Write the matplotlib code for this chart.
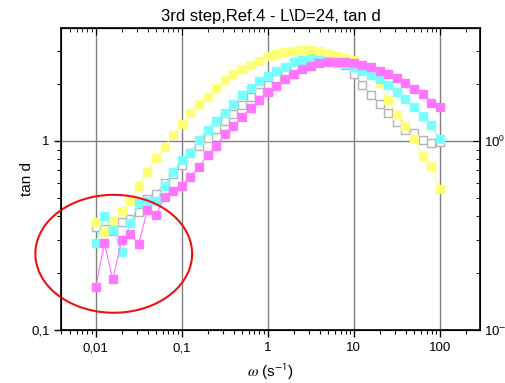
#----Bibliotek
import matplotlib.pyplot as plt
import numpy as np

plt.rcParams['font.family'] = ['Liberation Sans', 'DejaVu Sans']
plt.rcParams['mathtext.fontset'] = 'stix'

#----Data
omega = [0.01, 0.0126, 0.0158, 0.02, 0.0251, 0.0316, 0.0398, 0.0501, 0.0631, 0.0794,
         0.1, 0.126, 0.158, 0.2, 0.251, 0.316, 0.398, 0.501, 0.631, 0.794,
         1, 1.26, 1.58, 2, 2.51, 3.16, 3.98, 5.01, 6.31, 7.94,
         10, 12.6, 15.8, 20, 25.1, 31.6, 39.8, 50.1, 63.1, 79.4, 100]

tan_gray = [0.35, 0.342, 0.335, 0.372, 0.388, 0.42, 0.492, 0.525, 0.597, 0.665,
            0.746, 0.861, 0.941, 1.041, 1.157, 1.276, 1.39, 1.551, 1.703, 1.821,
            1.986, 2.128, 2.281, 2.472, 2.65, 2.75, 2.79, 2.78, 2.68, 2.525,
            2.262, 1.979, 1.752, 1.566, 1.402, 1.265, 1.15, 1.098, 1.012, 0.978, 0.99]

tan_yellow = [0.374, 0.329, 0.376, 0.426, 0.483, 0.578, 0.685, 0.81, 0.933, 1.076,
              1.23, 1.402, 1.564, 1.715, 1.9, 2.09, 2.262, 2.395, 2.525, 2.66,
              2.82, 2.886, 2.946, 2.984, 3.03, 3.02, 2.98, 2.904, 2.83, 2.76,
              2.68, 2.49, 2.29, 2.035, 1.641, 1.378, 1.193, 1.022, 0.828, 0.738, 0.554]

tan_cyan = [0.288, 0.401, 0.34, 0.258, 0.367, 0.468, 0.481, 0.483, 0.578, 0.688,
            0.79, 0.867, 1.009, 1.143, 1.281, 1.402, 1.57, 1.752, 1.915, 2.064,
            2.208, 2.346, 2.472, 2.609, 2.68, 2.716, 2.68, 2.65, 2.596, 2.556,
            2.454, 2.346, 2.243, 2.128, 1.979, 1.823, 1.675, 1.508, 1.356, 1.211, 1.025]

tan_magenta = [0.168, 0.288, 0.185, 0.299, 0.322, 0.285, 0.432, 0.406, 0.504, 0.541,
               0.581, 0.647, 0.729, 0.843, 0.941, 1.089, 1.2, 1.345, 1.489, 1.641,
               1.823, 1.962, 2.121, 2.254, 2.404, 2.49, 2.577, 2.628, 2.628, 2.618,
               2.577, 2.525, 2.454, 2.355, 2.262, 2.146, 2.02, 1.877, 1.766, 1.594, 1.513]

x_ticks = [0.01, 0.1, 1, 10, 100]
x_ticklabels = ["0,01", "0,1", "1", "10", "100"]
y_ticks = [0.1, 1]
y_ticklabels = ["0,1", "1"]
y_right_ticklabels = [r"10$^{\mathsf{-1}}$", r"10$^{\mathsf{0}}$"]

#----Figur
fig = plt.figure(figsize=(5.06, 3.83), dpi=100)
ax = fig.add_axes([0.1215, 0.1384, 0.827, 0.7885])

ax.set_xscale("log")
ax.set_yscale("log")
ax.set_xlim(0.0040, 292)
ax.set_ylim(0.1, 3.96)

# gridlinjer bara på major
for xv in x_ticks:
    ax.axvline(xv, color="#808080", lw=1, zorder=0)
ax.axhline(1, color="#808080", lw=1, zorder=0)

ms = 5.6
ax.plot(omega, tan_gray, color="#c8c8c8", lw=0.8, marker="s", ms=ms,
        mfc="white", mec="#b4b4b4", mew=1.0, zorder=2)
ax.plot(omega, tan_yellow, color="#ffff70", lw=0.8, marker="s", ms=ms,
        mfc="#ffff77", mec="#ffff77", zorder=3)
ax.plot(omega, tan_cyan, color="#70ffff", lw=0.8, marker="s", ms=ms,
        mfc="#77ffff", mec="#77ffff", zorder=4)
ax.plot(omega, tan_magenta, color="#ff70ff", lw=0.8, marker="s", ms=ms,
        mfc="#ff77ff", mec="#ff77ff", zorder=5)

# röd ellips runt lågfrekvensdelen (i log-rummet), går utanför axeln
t = np.linspace(0, 2 * np.pi, 200)
ex = 10 ** (np.log10(0.0162) + 0.911 * np.cos(t))
ey = 10 ** (np.log10(0.253) + 0.312 * np.sin(t))
ax.plot(ex, ey, color="#ee1111", lw=1.5, zorder=6, clip_on=False)

#----Axlar
ax.set_xticks(x_ticks)
ax.set_xticklabels(x_ticklabels)
ax.set_yticks(y_ticks)
ax.set_yticklabels(y_ticklabels)
ax.tick_params(axis="both", which="both", labelsize=9.5, direction="out",
               top=False, right=False)
ax.tick_params(axis="both", which="major", length=5, width=1)
ax.tick_params(axis="both", which="minor", length=3, width=0.8)
ax.tick_params(axis="x", pad=4)
ax.yaxis.set_minor_formatter(plt.NullFormatter())
ax.xaxis.set_minor_formatter(plt.NullFormatter())
for sp in ax.spines.values():
    sp.set_linewidth(1.2)

# övre ticks inåt
top = ax.secondary_xaxis("top")
top.tick_params(axis="x", which="both", direction="in", labeltop=False)
top.tick_params(which="major", length=5)
top.tick_params(which="minor", length=3)
top.set_xticks(x_ticks)
top.set_xticklabels([])

ax2 = ax.twinx()
ax2.set_yscale("log")
ax2.set_ylim(ax.get_ylim())
ax2.set_yticks(y_ticks)
ax2.set_yticklabels(y_right_ticklabels)
ax2.yaxis.set_minor_formatter(plt.NullFormatter())
ax2.tick_params(axis="y", which="both", direction="in", labelsize=9.5, pad=3)
ax2.tick_params(which="major", length=5)
ax2.tick_params(which="minor", length=3)

ax.set_xlabel(r"$\omega$ (s$^{\mathsf{-1}}$)", fontsize=11, labelpad=5)
ax.set_ylabel("tan d", fontsize=11, labelpad=-2)
ax.set_title("3rd step,Ref.4 - L\\D=24, tan d", fontsize=12, pad=5)

fig.savefig("out.png", dpi=100)
